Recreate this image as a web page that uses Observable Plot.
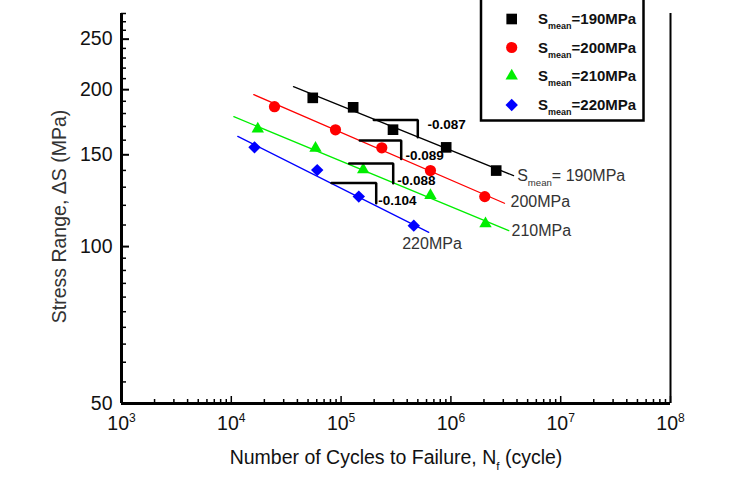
<!DOCTYPE html>
<html><head><meta charset="utf-8">
<script src="https://cdn.jsdelivr.net/npm/d3@7"></script>
<script src="https://cdn.jsdelivr.net/npm/@observablehq/plot@0.6"></script>
<style>
body{margin:0;background:#fff;}
#chart svg{display:block;}
#chart g[aria-label="x-axis tick label"] text, #chart g[aria-label="y-axis tick label"] text {font-size:19.5px;}
</style></head><body><div id="chart"></div>
<script>
// ---- data ----
const meanStress = [190, 200, 210, 220];
const colors = ["#000000", "#ff0000", "#00ee00", "#0000ff"];
const symbols = ["square", "circle", "triangle", "diamond2"];
const legendLabels = ["S~mean~=190MPa", "S~mean~=200MPa", "S~mean~=210MPa", "S~mean~=220MPa"];

const N190 = [55200, 128800, 297000, 906000, 2586000];
const S190 = [192.9, 185.0, 167.6, 155.0, 139.9];
const N200 = [24740, 88900, 234800, 651000, 2035000];
const S200 = [185.5, 167.5, 154.7, 139.9, 124.7];
const N210 = [17430, 58460, 159000, 651000, 2066000];
const S210 = [168.2, 154.4, 140.5, 125.3, 110.6];
const N220 = [16270, 60580, 144900, 459200];
const S220 = [155.0, 140.2, 124.7, 109.7];

// fitted S-N lines (start, end)
const fitN190 = [36850, 3720000],  fitS190 = [202.7, 136.8];
const fitN200 = [16030, 3076000],  fitS200 = [195.7, 121.1];
const fitN210 = [10540, 3365000],  fitS210 = [177.5, 107.3];
const fitN220 = [11460, 629000],   fitS220 = [162.7, 106.5];

// slope triangles
const slopeLabels = ["-0.087", "-0.089", "-0.088", "-0.104"];
const triN1 = [198600, 148000, 118500, 81770];
const triN2 = [499400, 352700, 298200, 208800];
const triS1 = [175.0, 159.7, 144.4, 132.5];
const triS2 = [162.0, 147.3, 132.3, 121.1];
const slopeLabelN = [612000, 386000, 324400, 217700];
const slopeLabelS = [171.4, 149.5, 133.9, 122.5];

// curve labels
const curveLabels = ["S~mean~= 190MPa", "200MPa", "210MPa", "220MPa"];
const curveLabelN = [4016000, 3490000, 3565000, 360000];
const curveLabelS = [136.8, 121.6, 107.3, 101.2];

// ticks
const xMajor = [1e3, 1e4, 1e5, 1e6, 1e7, 1e8];
const xMinor = [3,4,5,6,7].flatMap(k => [2,3,4,5,6,7,8,9].map(m => m * 10 ** k));
const yMajor = [50, 100, 150, 200, 250];
const yMinor = [55,60,65,70,75,80,85,90,95,110,120,130,140,160,170,180,190,210,220,230,240,260,270,280];

const xTitle = "Number of Cycles to Failure, N~f~ (cycle)";
const yTitle = "Stress Range, \u0394S (MPa)";

// ---- build tables ----
const Ns = [N190, N200, N210, N220], Ss = [S190, S200, S210, S220];
const fitNs = [fitN190, fitN200, fitN210, fitN220], fitSs = [fitS190, fitS200, fitS210, fitS220];
const points = Ns.flatMap((arr, i) => arr.map((n, j) => ({N: n, S: Ss[i][j], s: i})));
const fits = fitNs.flatMap((arr, i) => arr.map((n, j) => ({N: n, S: fitSs[i][j], s: i})));
const tris = slopeLabels.flatMap((_, i) => [
  {N: triN1[i], S: triS1[i], t: i},
  {N: triN2[i], S: triS1[i], t: i},
  {N: triN2[i], S: triS2[i], t: i}
]);
const slopeText = slopeLabels.map((l, i) => ({N: slopeLabelN[i], S: slopeLabelS[i], l}));
const curveText = curveLabels.map((l, i) => ({N: curveLabelN[i], S: curveLabelS[i], l}));
const radii = [6, 5.6, 4.6, 5.6];

const chart = Plot.plot({
  width: 733, height: 497,
  marginLeft: 121, marginRight: 63, marginTop: 13, marginBottom: 94,
  style: {fontFamily: "Arial, 'Liberation Sans', sans-serif", background: "white", overflow: "visible"},
  x: {type: "log", domain: [1e3, 1e8]},
  y: {type: "log", domain: [50, 280]},
  marks: [
    Plot.axisX(xMinor, {tickSize: -4, tickFormat: () => "", label: null, strokeWidth: 1.5}),
    Plot.axisX(xMajor, {tickSize: -7, tickPadding: 20, fill: "#111",
      tickFormat: d => `10^${Math.round(Math.log10(d))}^`, label: null, strokeWidth: 1.5}),
    Plot.axisY(yMinor, {tickSize: -5, tickFormat: () => "", label: null, strokeWidth: 1.5}),
    Plot.axisY(yMajor, {tickSize: -8, tickPadding: 17, fill: "#111",
      tickFormat: d => String(d), label: null, strokeWidth: 2}),
    Plot.ruleX([1e3], {strokeWidth: 3}),
    Plot.ruleX([1e8], {strokeWidth: 2}),
    Plot.ruleY([50], {strokeWidth: 3}),
    Plot.line(fits, {x: "N", y: "S", z: "s", stroke: d => colors[d.s], strokeWidth: 1.3}),
    ...[0,1,2,3].map(i => Plot.dot(points.filter(d => d.s === i),
      {x: "N", y: "S", symbol: () => symbols[i], fill: colors[i], r: radii[i], stroke: "none"})),
    Plot.line(tris, {x: "N", y: "S", z: "t", stroke: "black", strokeWidth: 2.5, strokeLinejoin: "miter"}),
    Plot.text(slopeText, {x: "N", y: "S", text: "l", textAnchor: "start", fontSize: 13.5, fontWeight: "bold", fill: "black"}),
    Plot.text(curveText, {x: "N", y: "S", text: "l", textAnchor: "start", fontSize: 16, fill: "#333"}),
    Plot.text([xTitle], {frameAnchor: "bottom", dy: 60, fontSize: 19.5, fill: "#111"}),
    Plot.text([yTitle], {frameAnchor: "left", textAnchor: "middle", rotate: -90, dx: -62, dy: 8, fontSize: 19.5, fill: "#333"})
  ]
});
document.getElementById("chart").appendChild(chart);

// ---- rich text (sub/superscripts) ----
function richify(root) {
  root.querySelectorAll("text").forEach(t => {
    const s = t.textContent;
    if (!/[\^~]/.test(s)) return;
    const fs = parseFloat(getComputedStyle(t).fontSize) || 16;
    const parts = s.split(/(\^[^\^]*\^|~[^~]*~)/).filter(p => p.length);
    while (t.firstChild) t.removeChild(t.firstChild);
    let shift = 0;
    parts.forEach(p => {
      const ts = document.createElementNS("http://www.w3.org/2000/svg", "tspan");
      let target = 0, text = p, size = null;
      if (p[0] === "^") { target = -0.42 * fs; text = p.slice(1, -1); size = 0.62 * fs; }
      else if (p[0] === "~") { target = 0.32 * fs; text = p.slice(1, -1); size = 0.6 * fs; }
      if (target - shift !== 0) ts.setAttribute("dy", target - shift);
      shift = target;
      if (size) ts.setAttribute("style", `font-size:${size}px`);
      ts.textContent = text;
      t.appendChild(ts);
    });
  });
}

// ---- legend ----
const svg = d3.select(chart);
const lg = svg.append("g").attr("font-family", "Arial, 'Liberation Sans', sans-serif").attr("text-anchor", "start");
lg.append("path").attr("d", "M481,-5V120.5H643.5V-5").attr("fill", "white").attr("stroke", "black").attr("stroke-width", 2.5);
const symMap = {square: d3.symbolSquare, circle: d3.symbolCircle, triangle: d3.symbolTriangle, diamond2: d3.symbolDiamond2};
const legendY = [19, 47.5, 76, 105];
meanStress.forEach((m, i) => {
  lg.append("path")
    .attr("d", d3.symbol(symMap[symbols[i]], Math.PI * radii[i] * radii[i])())
    .attr("transform", `translate(511.7,${legendY[i]})`)
    .attr("fill", colors[i]);
  lg.append("text").attr("x", 538).attr("y", legendY[i] + 5.4)
    .attr("font-size", 15).attr("font-weight", "bold").attr("fill", "#111")
    .text(legendLabels[i]);
});
richify(chart);
</script></body></html>
